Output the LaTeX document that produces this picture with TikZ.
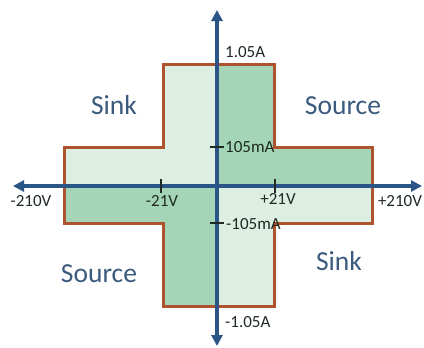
\documentclass[tikz,border=0pt]{standalone}
\usepackage{fontspec}
\setmainfont{Carlito}
\usetikzlibrary{arrows.meta}
\definecolor{outl}{HTML}{AE532D}
\definecolor{axisc}{HTML}{2B5487}
\definecolor{lightg}{HTML}{DCEFE2}
\definecolor{darkg}{HTML}{A4D5B6}
\definecolor{regc}{HTML}{3B5A7E}
\definecolor{tickc}{HTML}{1E2A22}
\tikzset{
  axisline/.style={draw=axisc,line width=3.2pt,-{Triangle[length=11pt,width=11pt]}},
  ticklab/.style={text=tickc,font=\fontsize{17}{17}\selectfont,inner sep=0pt},
  region/.style={text=regc,font=\fontsize{27.5}{27.5}\selectfont,inner sep=0pt},
  tickmark/.style={draw=tickc,line width=2pt}
}
\begin{document}
\begin{tikzpicture}[x=1pt,y=-1pt]
\useasboundingbox (0,0) rectangle (424,348);
% cross fill
\fill[lightg] (163,64) -- (274,64) -- (274,147) -- (372,147) -- (372,223) -- (274,223) -- (274,306) -- (163,306) -- (163,223) -- (64,223) -- (64,147) -- (163,147) -- cycle;
\fill[darkg] (217,64) -- (274,64) -- (274,147) -- (372,147) -- (372,186) -- (217,186) -- cycle;
\fill[darkg] (64,186) -- (217,186) -- (217,306) -- (163,306) -- (163,223) -- (64,223) -- cycle;
\draw[outl,line width=3pt,line join=miter] (163,64) -- (274,64) -- (274,147) -- (372,147) -- (372,223) -- (274,223) -- (274,306) -- (163,306) -- (163,223) -- (64,223) -- (64,147) -- (163,147) -- cycle;
% axes
\coordinate (ytop) at (217,10);
\coordinate (ybot) at (217,346);
\coordinate (xleft) at (13,186);
\coordinate (xright) at (422,186);
\coordinate (o) at (217,186);
\draw[axisline] (o) -- (ytop);
\draw[axisline] (o) -- (ybot);
\draw[axisline] (o) -- (xleft);
\draw[axisline] (o) -- (xright);
% ticks
\coordinate (tm21a) at (161,179); \coordinate (tm21b) at (161,193);
\coordinate (tp21a) at (275,179); \coordinate (tp21b) at (275,193);
\coordinate (tp105a) at (210,147); \coordinate (tp105b) at (224,147);
\coordinate (tm105a) at (210,223); \coordinate (tm105b) at (224,223);
\draw[tickmark] (tm21a) -- (tm21b);
\draw[tickmark] (tp21a) -- (tp21b);
\draw[tickmark] (tp105a) -- (tp105b);
\draw[tickmark] (tm105a) -- (tm105b);
% labels
\node[ticklab,anchor=west] (l105A) at (225,52) {1.05A};
\node[ticklab,anchor=west] (l105m) at (225,147) {105mA};
\node[ticklab,anchor=west] (lm105m) at (226,224) {-105mA};
\node[ticklab,anchor=west] (lm105A) at (225,322) {-1.05A};
\node[ticklab] (lm210) at (31,201) {-210V};
\node[ticklab] (lm21) at (162,201) {-21V};
\node[ticklab] (lp21) at (278,199) {+21V};
\node[ticklab] (lp210) at (400,201) {+210V};
\node[region] (sinkUL) at (114,105) {Sink};
\node[region] (sourceUR) at (343,106) {Source};
\node[region] (sourceLL) at (99,274) {Source};
\node[region] (sinkLR) at (339,261) {Sink};
\end{tikzpicture}
\end{document}
